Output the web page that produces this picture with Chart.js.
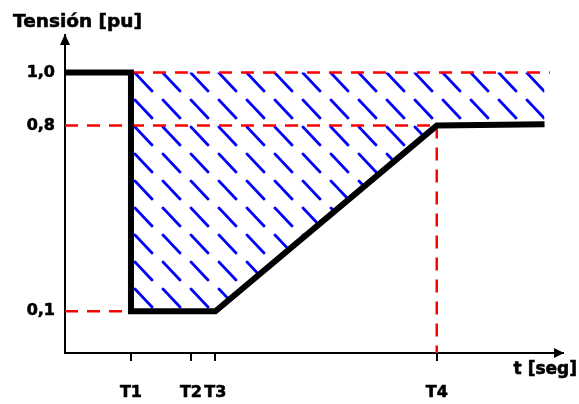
<!DOCTYPE html>
<html>
<head>
<meta charset="utf-8">
<script src="https://cdn.jsdelivr.net/npm/chart.js@4/dist/chart.umd.min.js"></script>
<style>
  html, body { margin: 0; padding: 0; background: #fff; }
  #wrap { width: 579px; height: 404px; }
</style>
</head>
<body>
<div id="wrap"><canvas id="c" width="579" height="404"></canvas></div>
<script>
// ---- data ----
const xTickValues = [1.0, 1.91, 2.28, 5.636];
const xTickLabels = ['T1', 'T2', 'T3', 'T4'];
const yTickValues = [0.1, 0.8, 1.0];
const yTickLabels = ['0,1', '0,8', '1,0'];

const tensionX = [0, 1.0, 1.0, 2.28, 5.636, 7.27];
const tensionY = [1.0, 1.0, 0.1, 0.1, 0.8, 0.805];

const ref10X = [1.0, 7.35];
const ref10Y = [1.0, 1.0];
const ref08X = [0, 5.636];
const ref08Y = [0.8, 0.8];
const ref01X = [0, 1.0];
const ref01Y = [0.1, 0.1];
const t4X = [5.636, 5.636];
const t4Y = [0.8, -0.057];

const xMin = 0, xMax = 7.55;
const yMin = -0.057, yMax = 1.1415;

const yTitle = 'Tensión [pu]';
const xTitle = 't [seg]';

const toPts = (xs, ys) => xs.map((x, i) => ({x: x, y: ys[i]}));

// hatch pattern
function makeHatch() {
  const w = 28, h = 27;
  const c = document.createElement('canvas');
  c.width = w; c.height = h;
  const g = c.getContext('2d');
  g.strokeStyle = '#0000ff';
  g.lineWidth = 2.8;
  g.lineCap = 'round';
  const px = 23, py = 19;
  for (let dx = -w; dx <= w; dx += w) {
    for (let dy = -h; dy <= h; dy += h) {
      g.beginPath();
      g.moveTo(px + dx, py + dy);
      g.lineTo(px + dx + 17, py + dy + 18);
      g.stroke();
    }
  }
  return g.createPattern(c, 'repeat');
}
const hatch = makeHatch();

const redDash = {
  borderColor: '#ff0000', borderWidth: 2.5, borderDash: [13, 9],
  pointRadius: 0, fill: false, tension: 0
};

const labelFont = { family: 'DejaVu Sans', size: 16, weight: 'bold' };

const decor = {
  id: 'decor',
  afterDraw(chart) {
    const ctx = chart.ctx;
    const {left, right, top, bottom} = chart.chartArea;
    ctx.save();
    ctx.fillStyle = '#000';
    ctx.beginPath();
    ctx.moveTo(left, top - 1);
    ctx.lineTo(left - 5, top + 10);
    ctx.lineTo(left + 5, top + 10);
    ctx.closePath();
    ctx.fill();
    ctx.beginPath();
    ctx.moveTo(right + 1, bottom);
    ctx.lineTo(right - 9, bottom - 5);
    ctx.lineTo(right - 9, bottom + 5);
    ctx.closePath();
    ctx.fill();
    ctx.strokeStyle = '#000';
    ctx.lineWidth = 0.6;
    ctx.textBaseline = 'alphabetic';
    ctx.font = 'bold 18.5px "DejaVu Sans"';
    ctx.textAlign = 'left';
    ctx.fillText(yTitle, 13, 27);
    ctx.strokeText(yTitle, 13, 27);
    ctx.font = 'bold 17px "DejaVu Sans"';
    ctx.textAlign = 'right';
    ctx.fillText(xTitle, 577, 374);
    ctx.strokeText(xTitle, 577, 374);
    ctx.restore();
  }
};

new Chart(document.getElementById('c'), {
  type: 'line',
  data: {
    datasets: [
      {
        data: toPts(tensionX, tensionY),
        borderColor: '#000', borderWidth: 6, pointRadius: 0, tension: 0,
        borderJoinStyle: 'miter', borderCapStyle: 'butt',
        fill: {value: 1.0},
        backgroundColor: hatch
      },
      Object.assign({data: toPts(ref08X, ref08Y)}, redDash),
      Object.assign({data: toPts(ref01X, ref01Y)}, redDash),
      Object.assign({data: toPts(t4X, t4Y)}, redDash),
      Object.assign({data: toPts(ref10X, ref10Y)}, redDash)
    ]
  },
  options: {
    responsive: false,
    devicePixelRatio: 1,
    animation: false,
    events: [],
    layout: { padding: { left: 0, top: 35, right: 16, bottom: 0 } },
    plugins: {
      legend: { display: false },
      tooltip: { enabled: false },
      filler: { drawTime: 'beforeDatasetsDraw' }
    },
    scales: {
      x: {
        type: 'linear', min: xMin, max: xMax,
        afterFit: s => { s.height = 51; },
        afterBuildTicks: s => { s.ticks = xTickValues.map(v => ({value: v})); },
        grid: { display: true, drawOnChartArea: false, drawTicks: true, tickLength: 8, color: '#000', lineWidth: 2 },
        border: { display: true, color: '#000', width: 2 },
        ticks: {
          autoSkip: false, maxRotation: 0, padding: 22, color: '#000',
          textStrokeColor: '#000', textStrokeWidth: 0.6,
          font: labelFont,
          callback: (v, i) => xTickLabels[i]
        }
      },
      y: {
        type: 'linear', min: yMin, max: yMax,
        afterFit: s => { s.width = 65; },
        afterBuildTicks: s => { s.ticks = yTickValues.map(v => ({value: v})); },
        grid: { display: false, drawTicks: false },
        border: { display: true, color: '#000', width: 2 },
        ticks: {
          padding: 10, color: '#000',
          textStrokeColor: '#000', textStrokeWidth: 0.6,
          font: labelFont,
          callback: (v, i) => yTickLabels[i]
        }
      }
    }
  },
  plugins: [decor]
});
</script>
</body>
</html>
